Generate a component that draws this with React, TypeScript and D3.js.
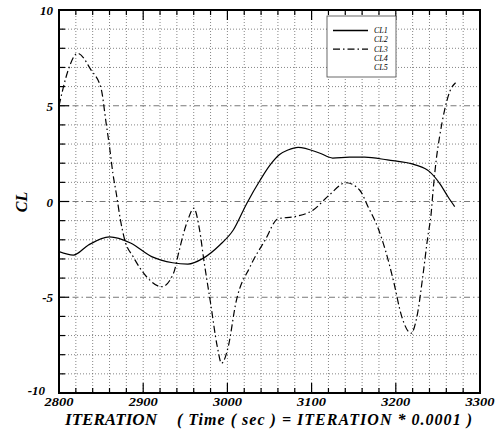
import React from "react";
import * as d3 from "d3";

// Lift coefficient histories against iteration count
const iterCL1 = [2800, 2817, 2835, 2860, 2885, 2910, 2935, 2953, 2971, 2991, 3007, 3023, 3039, 3051, 3062, 3072, 3084, 3110, 3125, 3145, 3163, 3190, 3224, 3240, 3252, 3262, 3270];
const valCL1 = [-2.62, -2.8, -2.27, -1.85, -2.17, -2.88, -3.2, -3.27, -2.97, -2.27, -1.49, -0.1, 1.12, 1.92, 2.45, 2.69, 2.83, 2.52, 2.27, 2.32, 2.32, 2.17, 1.9, 1.56, 0.95, 0.25, -0.27];

const iterCL3 = [2800, 2811, 2822, 2838, 2850, 2856, 2860, 2864, 2868, 2873, 2878, 2888, 2904, 2922, 2936, 2942, 2948, 2953, 2960, 2967, 2972, 2980, 2988, 2993, 3001, 3010, 3027, 3045, 3060, 3080, 3102, 3121, 3141, 3157, 3167, 3179, 3188, 3197, 3207, 3218, 3226, 3232, 3238, 3242, 3244, 3248, 3252, 3258, 3264, 3271];
const valCL3 = [4.99, 6.87, 7.74, 6.87, 5.9, 4.08, 2.86, 1.47, 0.43, -0.97, -2.0, -2.88, -3.93, -4.45, -3.75, -2.7, -1.65, -0.97, -0.35, -1.49, -3.05, -5.3, -7.58, -8.45, -7.58, -5.3, -3.4, -2.0, -0.9, -0.79, -0.44, 0.34, 0.98, 0.6, -0.27, -1.4, -2.6, -4.1, -6.0, -6.88, -5.8, -3.93, -1.84, -0.62, 0.43, 2.17, 3.38, 4.78, 5.73, 6.2];

const xTickLabels = [2800, 2900, 3000, 3100, 3200, 3300];
const yTickLabels = [10, 5, 0, -5, -10];
const legendNames = ["CL1", "CL2", "CL3", "CL4", "CL5"];
const legendStyles = ["solid", "none", "dashdot", "none", "none"];

const W = 498;
const H = 432;
const left = 59;
const right = 480;
const top = 10;
const bottom = 393;

export default function App() {
  const x = d3.scaleLinear().domain([2800, 3300]).range([left, right]);
  const y = d3.scaleLinear().domain([-10, 10]).range([bottom, top]);

  const line = d3
    .line<[number, number]>()
    .x((d) => x(d[0]))
    .y((d) => y(d[1]))
    .curve(d3.curveMonotoneX);

  const cl1Path = line(iterCL1.map((v, i) => [v, valCL1[i]]) as [number, number][]) || "";
  const cl3Path = line(iterCL3.map((v, i) => [v, valCL3[i]]) as [number, number][]) || "";

  const xMinor = d3.range(2800, 3301, 20);
  const yMinor = d3.range(-10, 11, 1);

  const font = "Liberation Serif, Times New Roman, serif";

  return (
    <svg width={W} height={H} style={{ position: "absolute", left: 0, top: 0, background: "#fff" }}>
      <defs>
        <clipPath id="plot-clip">
          <rect x={left} y={top} width={right - left} height={bottom - top} />
        </clipPath>
      </defs>

      {/* grid */}
      <g>
        {xMinor.slice(1, -1).map((v) => (
          <line key={"gx" + v} x1={x(v)} x2={x(v)} y1={top} y2={bottom} stroke="#666" strokeWidth={0.8} strokeDasharray="1,2" />
        ))}
        {yMinor.slice(1, -1).map((v) => {
          const major = v % 5 === 0;
          return (
            <line
              key={"gy" + v}
              x1={left}
              x2={right}
              y1={y(v)}
              y2={y(v)}
              stroke={major ? "#555" : "#666"}
              strokeWidth={0.8}
              strokeDasharray={major ? "6,3,1.5,3" : "1,2"}
            />
          );
        })}
      </g>

      {/* ticks */}
      <g stroke="#000" strokeWidth={1.2}>
        {xMinor.map((v) => (
          <line key={"tb" + v} x1={x(v)} x2={x(v)} y1={bottom} y2={bottom - (v % 100 === 0 ? 10 : 5)} />
        ))}
        {xMinor.map((v) => (
          <line key={"tt" + v} x1={x(v)} x2={x(v)} y1={top} y2={top + (v % 100 === 0 ? 10 : 5)} />
        ))}
        {yMinor.map((v) => (
          <line key={"tl" + v} x1={left} x2={left + (v % 5 === 0 ? 10 : 6)} y1={y(v)} y2={y(v)} />
        ))}
      </g>

      {/* data */}
      <g clipPath="url(#plot-clip)" fill="none" stroke="#000">
        <path d={cl1Path} strokeWidth={1.2} />
        <path d={cl3Path} strokeWidth={1.2} strokeDasharray="7,3,1.5,3" />
      </g>

      {/* frame */}
      <rect x={left} y={top} width={right - left} height={bottom - top} fill="none" stroke="#000" strokeWidth={2} />

      {/* legend */}
      <g>
        <rect x={327} y={16} width={69} height={61} fill="#fff" stroke="#444" strokeWidth={0.8} />
        {legendNames.map((n, i) => {
          const ly = 30.5 + i * 9.3;
          return (
            <g key={n}>
              {legendStyles[i] !== "none" && (
                <line
                  x1={333}
                  x2={368}
                  y1={ly}
                  y2={ly}
                  stroke="#000"
                  strokeWidth={1.4}
                  strokeDasharray={legendStyles[i] === "dashdot" ? "7,3,1.5,3" : undefined}
                />
              )}
              <text x={374} y={ly + 2.5} fontFamily={font} fontStyle="italic" fontSize={8} fill="#000">
                {n}
              </text>
            </g>
          );
        })}
      </g>

      {/* tick labels */}
      <g fontFamily={font} fontStyle="italic" fontWeight="bold" fontSize={13} fill="#000">
        {xTickLabels.map((v) => (
          <text key={"xl" + v} x={x(v)} y={406} textAnchor="middle" textLength={29} lengthAdjust="spacingAndGlyphs">
            {v}
          </text>
        ))}
        {yTickLabels.map((v) => (
          <text key={"yl" + v} x={v === -10 ? 45 : 53} y={v === -10 ? 395 : y(v) + 5} textAnchor="end">
            {v}
          </text>
        ))}
      </g>

      {/* axis titles */}
      <g fontFamily={font} fontStyle="italic" fontWeight="bold" fontSize={16} fill="#000">
        <text x={65} y={425} textLength={92} lengthAdjust="spacingAndGlyphs">ITERATION</text>
        <text x={177} y={425} textLength={295} lengthAdjust="spacing">( Time ( sec ) = ITERATION * 0.0001 )</text>
        <text transform="translate(27,202) rotate(-90)" textAnchor="middle">
          CL
        </text>
      </g>
    </svg>
  );
}
